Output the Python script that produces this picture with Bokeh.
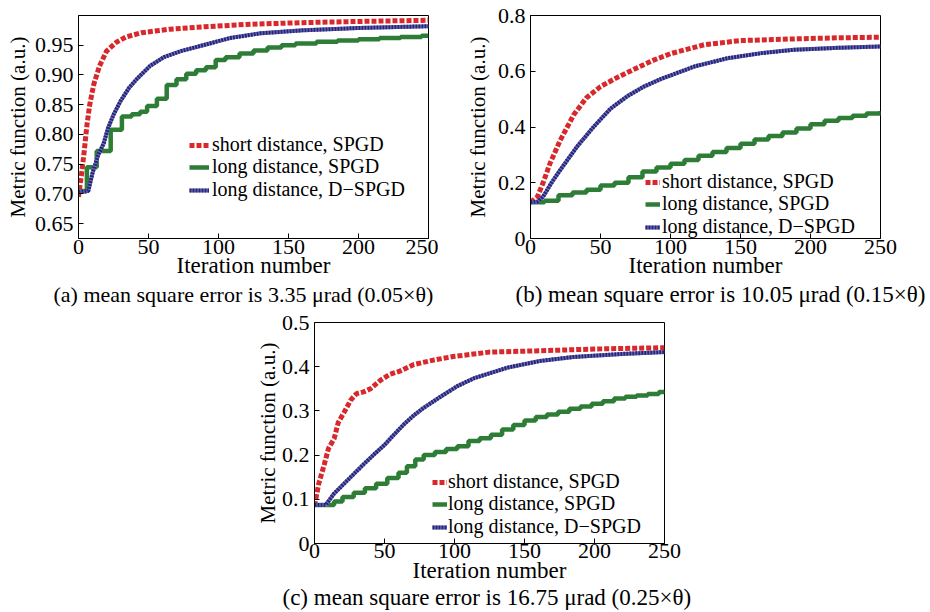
from bokeh.plotting import figure
from bokeh.layouts import column, row
from bokeh.models import FixedTicker, Legend, LegendItem, Title, Range1d
from bokeh.embed import file_html
from bokeh.resources import INLINE

FONT = "Liberation Serif"

# ---------------- data ----------------
iter_ticks = [0, 50, 100, 150, 200, 250]
iter_tick_labels = ["0", "50", "100", "150", "200", "250"]

a_y_ticks = [0.65, 0.70, 0.75, 0.80, 0.85, 0.90, 0.95]
a_y_tick_labels = ["0.65", "0.70", "0.75", "0.80", "0.85", "0.90", "0.95"]
b_y_ticks = [0, 0.2, 0.4, 0.6, 0.8]
b_y_tick_labels = ["0", "0.2", "0.4", "0.6", "0.8"]
c_y_ticks = [0, 0.1, 0.2, 0.3, 0.4, 0.5]
c_y_tick_labels = ["0", "0.1", "0.2", "0.3", "0.4", "0.5"]

legend_labels = ["short distance, SPGD", "long distance, SPGD", "long distance, D\u2212SPGD"]
x_label = "Iteration number"
y_label = "Metric function (a.u.)"
captions = [
    "(a) mean square error is 3.35 \u03bcrad (0.05\u00d7\u03b8)",
    "(b) mean square error is 10.05 \u03bcrad (0.15\u00d7\u03b8)",
    "(c) mean square error is 16.75 \u03bcrad (0.25\u00d7\u03b8)",
]

# panel (a)
a_short_x = [0, 2, 4, 6, 8, 11, 15, 20, 27, 34, 45, 65, 90, 120, 160, 200, 250]
a_short_y = [0.695, 0.73, 0.77, 0.815, 0.85, 0.885, 0.915, 0.94, 0.955, 0.964, 0.971,
             0.977, 0.981, 0.985, 0.988, 0.990, 0.992]
a_long_x = [0, 6, 13, 23, 31, 38, 44, 49, 56, 63, 70, 77, 84, 91, 98, 105, 115, 125,
            135, 145, 155, 170, 185, 200, 215, 230, 245, 250]
a_long_y = [0.705, 0.745, 0.772, 0.808, 0.830, 0.834, 0.838, 0.848, 0.860, 0.883, 0.893,
            0.902, 0.908, 0.913, 0.925, 0.930, 0.936, 0.941, 0.946, 0.950, 0.953, 0.956,
            0.958, 0.960, 0.962, 0.964, 0.966, 0.966]
a_dspgd_x = [0, 7, 10, 14, 18, 21, 25, 30, 36, 42, 51, 61, 73, 89, 108, 130, 160, 200, 250]
a_dspgd_y = [0.703, 0.705, 0.735, 0.765, 0.785, 0.81, 0.833, 0.856, 0.878, 0.894, 0.915,
             0.93, 0.94, 0.95, 0.962, 0.970, 0.975, 0.979, 0.982]

# panel (b)
b_short_x = [0, 5, 9, 14, 21, 31, 40, 50, 62, 76, 88, 100, 124, 150, 188, 220, 250]
b_short_y = [0.13, 0.15, 0.2, 0.27, 0.35, 0.445, 0.505, 0.545, 0.578, 0.612, 0.64, 0.663,
             0.695, 0.71, 0.716, 0.72, 0.722]
b_long_x = [0, 10, 20, 30, 40, 50, 60, 70, 80, 90, 100, 110, 120, 130, 140, 150, 160,
            170, 180, 190, 200, 210, 220, 230, 240, 250]
b_long_y = [0.13, 0.135, 0.155, 0.165, 0.175, 0.19, 0.20, 0.22, 0.24, 0.255, 0.268, 0.282,
            0.297, 0.31, 0.325, 0.34, 0.355, 0.368, 0.38, 0.395, 0.41, 0.422, 0.432, 0.44,
            0.448, 0.457]
b_dspgd_x = [0, 5, 9, 15, 21, 33, 45, 57, 69, 81, 93, 117, 141, 165, 188, 220, 250]
b_dspgd_y = [0.13, 0.132, 0.15, 0.2, 0.244, 0.328, 0.40, 0.465, 0.51, 0.545, 0.572, 0.617,
             0.647, 0.665, 0.677, 0.684, 0.689]

# panel (c)
c_short_x = [0, 3, 7, 10, 14, 17, 21, 26, 30, 35, 40, 47, 54, 61, 71, 85, 99, 125, 161, 200, 250]
c_short_y = [0.085, 0.135, 0.179, 0.215, 0.237, 0.274, 0.296, 0.325, 0.339, 0.343, 0.35,
             0.369, 0.383, 0.39, 0.405, 0.415, 0.423, 0.433, 0.436, 0.44, 0.443]
c_long_x = [0, 8, 14, 20, 28, 36, 44, 52, 60, 66, 72, 78, 86, 94, 102, 110, 118, 126, 134,
            142, 150, 158, 166, 174, 182, 190, 198, 206, 214, 222, 230, 238, 246, 250]
c_long_y = [0.087, 0.087, 0.095, 0.105, 0.115, 0.125, 0.135, 0.148, 0.16, 0.175, 0.19, 0.2,
            0.207, 0.214, 0.22, 0.232, 0.238, 0.246, 0.258, 0.268, 0.278, 0.286, 0.292,
            0.298, 0.305, 0.31, 0.316, 0.322, 0.328, 0.332, 0.335, 0.338, 0.343, 0.345]
c_dspgd_x = [0, 8, 14, 21, 28, 35, 42, 50, 57, 64, 71, 78, 90, 102, 114, 138, 161, 185, 220, 250]
c_dspgd_y = [0.087, 0.087, 0.113, 0.135, 0.157, 0.179, 0.2, 0.223, 0.247, 0.27, 0.29,
             0.307, 0.332, 0.356, 0.374, 0.398, 0.413, 0.422, 0.429, 0.433]

# ---------------- styling ----------------
RED = "#d8282b"
GREEN = "#2e7d36"
BLUE_DARK = "#26267a"
BLUE_LIGHT = "#7c7cc0"


def make_panel(sx, sy, lx, ly, dx, dy, yr, yticks, ylabels, caption, cap_fs, cap_off,
               borders, fh, x_std, x_als, y_als, cap_std, legend_x, legend_ys,
               glyph_w, legend_std):
    left, right, top, bottom = borders
    p = figure(frame_width=350, frame_height=fh, x_range=Range1d(0, 250),
               y_range=Range1d(*yr), output_backend="svg", toolbar_location=None,
               min_border_left=left, min_border_right=right, min_border_top=top,
               min_border_bottom=bottom, background_fill_color="white",
               border_fill_color="white")
    p.grid.visible = False
    p.outline_line_color = "black"
    p.outline_line_width = 1

    r_short = p.line(sx, sy, line_color=RED, line_width=5, line_dash="5 2")
    r_long = p.step(lx, ly, mode="after", line_color=GREEN, line_width=4.5)
    r_d1 = p.line(dx, dy, line_color=BLUE_LIGHT, line_width=4)
    r_d2 = p.line(dx, dy, line_color=BLUE_DARK, line_width=4, line_dash="2 1")

    p.xaxis.ticker = FixedTicker(ticks=iter_ticks)
    p.xaxis.major_label_overrides = dict(zip(iter_ticks, iter_tick_labels))
    p.yaxis.ticker = FixedTicker(ticks=yticks)
    p.yaxis.major_label_overrides = dict(zip(yticks, ylabels))
    for ax in (p.xaxis, p.yaxis):
        ax.axis_line_color = "black"
        ax.major_tick_in = 5
        ax.major_tick_out = 0
        ax.minor_tick_line_color = None
        ax.major_label_text_font = FONT
        ax.major_label_text_font_size = "22px"
        ax.major_label_text_color = "black"
        ax.axis_label_text_font = FONT
        ax.axis_label_text_font_style = "normal"
        ax.axis_label_text_color = "black"
    p.xaxis.axis_label = x_label
    p.yaxis.axis_label = y_label
    p.xaxis.axis_label_text_font_size = "23px"
    p.yaxis.axis_label_text_font_size = "21px"
    p.xaxis.major_label_standoff = x_std
    p.yaxis.major_label_standoff = 5
    p.xaxis.axis_label_standoff = x_als
    p.yaxis.axis_label_standoff = y_als

    groups = [[r_short], [r_long], [r_d1, r_d2]]
    for label, rends, ly_ in zip(legend_labels, groups, legend_ys):
        legend = Legend(items=[LegendItem(label=label, renderers=rends)],
                        location=(legend_x, ly_))
        legend.label_text_font = FONT
        legend.label_text_font_size = "20px"
        legend.label_text_color = "black"
        legend.glyph_width = glyph_w
        legend.glyph_height = 20
        legend.label_height = 20
        legend.label_standoff = legend_std
        legend.spacing = 0
        legend.padding = 0
        legend.margin = 0
        legend.border_line_alpha = 0
        legend.background_fill_alpha = 0
        p.add_layout(legend, "center")

    p.add_layout(Title(text=caption, align="left", offset=cap_off, text_font=FONT,
                       text_font_size=cap_fs, text_font_style="normal",
                       text_color="black", standoff=cap_std), "below")
    return p


pa = make_panel(a_short_x, a_short_y, a_long_x, a_long_y, a_dspgd_x, a_dspgd_y,
                (0.625, 1.0), a_y_ticks, a_y_tick_labels, captions[0], "22px", -25,
                (78, 10, 15, 71), 223, 1, -4, 2, -2,
                111, [82, 60, 37], 20, 3)
pb = make_panel(b_short_x, b_short_y, b_long_x, b_long_y, b_dspgd_x, b_dspgd_y,
                (0, 0.8), b_y_ticks, b_y_tick_labels, captions[1], "23px", -15,
                (92, 48, 15, 71), 223, 1, -4, 5, -2,
                115, [45, 23, 0], 15, 2)
pc = make_panel(c_short_x, c_short_y, c_long_x, c_long_y, c_dspgd_x, c_dspgd_y,
                (0, 0.5), c_y_ticks, c_y_tick_labels, captions[2], "23px", -32,
                (314, 30, 13, 67), 221, 0, -3, -1, -5,
                118, [50, 28, 5], 15, 1)

layout = column(row(pa, pb), pc)
open("out.html", "w").write(file_html(layout, INLINE))
